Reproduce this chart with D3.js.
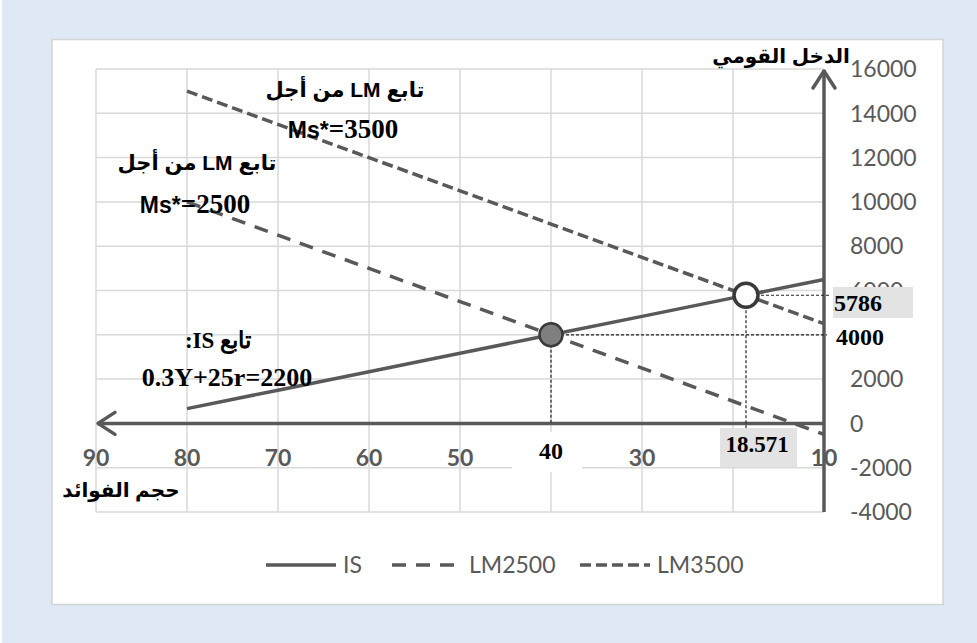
<!DOCTYPE html>
<html>
<head>
<meta charset="utf-8">
<script src="https://cdn.jsdelivr.net/npm/d3@7"></script>
<style>
  body { margin: 0; background: #ffffff; }
  svg { display: block; }
</style>
</head>
<body>
<div id="chart"></div>
<script>
// interest rate (x, reversed) and national income for each curve
var rates = [80, 70, 60, 50, 40, 30, 20, 10];
var isValues = [667, 1500, 2333, 3167, 4000, 4833, 5667, 6500];
var lm2500Values = [10000, 8500, 7000, 5500, 4000, 2500, 1000, -500];
var lm3500Values = [15000, 13500, 12000, 10500, 9000, 7500, 6000, 4500];

var xTicks = [90, 80, 70, 60, 50, 40, 30, 20, 10];
var yTicks = [-4000, -2000, 0, 2000, 4000, 6000, 8000, 10000, 12000, 14000, 16000];
// tick labels replaced by the highlighted values
var hiddenX = [40, 20];
var hiddenY = [4000];

// equilibrium points
var eq1 = { r: 40, y: 4000 };
var eq2 = { r: 18.571, y: 5786 };

var W = 977, H = 643;
var axisColor = "#595959";
var gridColor = "#d9d9d9";
var sansFont = "Lato, 'Open Sans', sans-serif";
var boldFont = "'Liberation Sans', 'DejaVu Sans', sans-serif";
var serifFont = "'Liberation Serif', 'DejaVu Serif', serif";

var svg = d3.select("#chart").append("svg")
    .attr("width", W)
    .attr("height", H);

// light blue page background + white chart area
svg.append("rect").attr("x", 2).attr("y", 0).attr("width", W - 2).attr("height", H).attr("fill", "#dee9f5");
svg.append("rect").attr("x", 52).attr("y", 39.5).attr("width", 891).attr("height", 565)
    .attr("fill", "#ffffff").attr("stroke", "#d4d4d4").attr("stroke-width", 1.5);

var x = d3.scaleLinear().domain([90, 10]).range([96, 824]);
var y = d3.scaleLinear().domain([-4000, 16000]).range([512, 69]);

// gridlines
svg.append("g").selectAll("line.vg")
    .data(xTicks).enter().append("line")
    .attr("x1", function (d) { return x(d); }).attr("x2", function (d) { return x(d); })
    .attr("y1", y(16000)).attr("y2", y(-4000))
    .attr("stroke", gridColor).attr("stroke-width", 1.5);

svg.append("g").selectAll("line.hg")
    .data(yTicks).enter().append("line")
    .attr("x1", x(90)).attr("x2", x(10))
    .attr("y1", function (d) { return y(d); }).attr("y2", function (d) { return y(d); })
    .attr("stroke", gridColor).attr("stroke-width", 1.5);

// tick labels
svg.append("g").selectAll("text")
    .data(yTicks.filter(function (d) { return hiddenY.indexOf(d) < 0; })).enter().append("text")
    .attr("x", 850)
    .attr("y", function (d) { return y(d); })
    .attr("dy", "0.36em")
    .attr("font-family", sansFont).attr("font-size", 23)
    .attr("fill", axisColor)
    .text(function (d) { return d; });

svg.append("g").selectAll("text")
    .data(xTicks.filter(function (d) { return hiddenX.indexOf(d) < 0; })).enter().append("text")
    .attr("x", function (d) { return x(d); })
    .attr("y", 458)
    .attr("dy", "0.36em")
    .attr("text-anchor", "middle")
    .attr("font-family", sansFont).attr("font-size", 23).attr("font-weight", "bold")
    .attr("fill", axisColor)
    .text(function (d) { return d; });

// axes with open arrowheads
svg.append("line")
    .attr("x1", x(10)).attr("x2", x(10)).attr("y1", y(-4000)).attr("y2", y(16000) + 1)
    .attr("stroke", axisColor).attr("stroke-width", 3.5);
svg.append("path")
    .attr("d", "M" + (x(10) - 11) + "," + (y(16000) + 19) + "L" + x(10) + "," + (y(16000) + 2) + "L" + (x(10) + 11) + "," + (y(16000) + 19))
    .attr("fill", "none").attr("stroke", axisColor).attr("stroke-width", 3.5).attr("stroke-linecap", "round").attr("stroke-linejoin", "round");

svg.append("line")
    .attr("x1", x(10)).attr("x2", x(90) + 1).attr("y1", y(0)).attr("y2", y(0))
    .attr("stroke", axisColor).attr("stroke-width", 3.5);
svg.append("path")
    .attr("d", "M" + (x(90) + 19) + "," + (y(0) - 11) + "L" + (x(90) + 2) + "," + y(0) + "L" + (x(90) + 19) + "," + (y(0) + 11))
    .attr("fill", "none").attr("stroke", axisColor).attr("stroke-width", 3.5).attr("stroke-linecap", "round").attr("stroke-linejoin", "round");

// series
var line = d3.line()
    .x(function (d) { return x(d[0]); })
    .y(function (d) { return y(d[1]); });

var series = [
    { name: "IS", values: isValues, dash: null },
    { name: "LM2500", values: lm2500Values, dash: "14,10" },
    { name: "LM3500", values: lm3500Values, dash: "11,5" }
];

series.forEach(function (s) {
    svg.append("path")
        .datum(d3.zip(rates, s.values))
        .attr("d", line)
        .attr("fill", "none")
        .attr("stroke", axisColor)
        .attr("stroke-width", 3.5)
        .attr("stroke-dasharray", s.dash);
});

// dotted guide lines from equilibria
function guides(p, xEnd, yEnd) {
    svg.append("path")
        .attr("d", "M" + x(p.r) + "," + y(p.y) + "H" + xEnd + "M" + x(p.r) + "," + y(p.y) + "V" + yEnd)
        .attr("fill", "none").attr("stroke", "#222").attr("stroke-width", 1.2)
        .attr("stroke-dasharray", "3,2");
}
guides(eq1, 827, y(0));
guides(eq2, 830, 428);

// white patch behind "40", grey value boxes
svg.append("rect").attr("x", 512).attr("y", 432).attr("width", 70).attr("height", 40).attr("fill", "#ffffff");
svg.append("rect").attr("x", 720).attr("y", 428).attr("width", 77).attr("height", 39).attr("fill", "#e3e3e3");
svg.append("rect").attr("x", 833).attr("y", 287).attr("width", 80).attr("height", 31).attr("fill", "#e3e3e3");

// equilibrium markers
svg.append("circle").attr("cx", x(eq1.r)).attr("cy", y(eq1.y)).attr("r", 11.5)
    .attr("fill", "#7f7f7f").attr("stroke", "#3a3a3a").attr("stroke-width", 2.5);
svg.append("circle").attr("cx", x(eq2.r)).attr("cy", y(eq2.y)).attr("r", 12)
    .attr("fill", "#ffffff").attr("stroke", "#3a3a3a").attr("stroke-width", 3.5);

function serifLabel(txt, cx, cy, size, anchor) {
    svg.append("text")
        .attr("x", cx).attr("y", cy).attr("dy", "0.35em")
        .attr("text-anchor", anchor || "middle")
        .attr("font-family", serifFont).attr("font-weight", "bold").attr("font-size", size)
        .attr("fill", "#000")
        .text(txt);
}
serifLabel("40", 551, 451, 24);
serifLabel("18.571", 757, 444, 23);
serifLabel("5786", 834, 303, 24, "start");
serifLabel("4000", 836, 337, 24, "start");

// annotations
function arabicLabel(txt, cx, cy, size) {
    svg.append("text")
        .attr("x", cx).attr("y", cy).attr("dy", "0.35em")
        .attr("text-anchor", "middle")
        .attr("direction", "rtl")
        .attr("font-family", boldFont).attr("font-weight", "bold").attr("font-size", size)
        .attr("fill", "#000")
        .text(txt);
}
arabicLabel("تابع LM من أجل", 345, 90, 21);
arabicLabel("تابع LM من أجل", 197, 163, 21);
arabicLabel("الدخل القومي", 781, 56, 20);
arabicLabel("حجم الفوائد", 121, 490, 20);

function msLabel(val, cx, cy) {
    var t = svg.append("text")
        .attr("x", cx).attr("y", cy).attr("dy", "0.35em")
        .attr("text-anchor", "middle").attr("font-weight", "bold").attr("fill", "#000");
    t.append("tspan").attr("font-family", boldFont).attr("font-size", 23).text("Ms*");
    t.append("tspan").attr("font-family", serifFont).attr("font-size", 27).text("=" + val);
}
msLabel(3500, 343, 132);
msLabel(2500, 195, 207);

svg.append("text")
    .attr("x", 218).attr("y", 340).attr("dy", "0.35em")
    .attr("text-anchor", "middle").attr("direction", "rtl")
    .attr("font-family", serifFont).attr("font-weight", "bold").attr("font-size", 23)
    .text("تابع IS:");
serifLabel("0.3Y+25r=2200", 227, 377, 26);

// legend
var legendX = [266, 392, 580];
var legend = svg.append("g").selectAll("g")
    .data(series).enter().append("g")
    .attr("transform", function (d, i) { return "translate(" + legendX[i] + ",565)"; });
legend.append("line")
    .attr("x1", 0).attr("x2", 70).attr("y1", 0).attr("y2", 0)
    .attr("stroke", axisColor).attr("stroke-width", 3.5)
    .attr("stroke-dasharray", function (d) { return d.dash; });
legend.append("text")
    .attr("x", 77).attr("dy", "0.36em")
    .attr("font-family", sansFont).attr("font-size", 23).attr("fill", axisColor)
    .text(function (d) { return d.name; });
</script>
</body>
</html>
